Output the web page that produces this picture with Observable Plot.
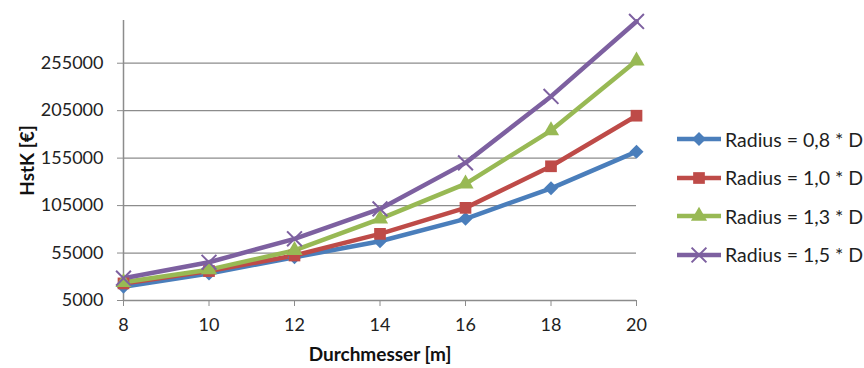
<!DOCTYPE html>
<html><head><meta charset="utf-8">
<script src="https://cdn.jsdelivr.net/npm/d3@7"></script>
<script src="https://cdn.jsdelivr.net/npm/@observablehq/plot@0.6"></script>
<style>
body{margin:0;background:#fff;font-family:Lato,sans-serif}
#wrap{position:relative;width:864px;height:368px}
#legend{position:absolute;left:676px;top:120px;font-family:Lato,sans-serif;font-size:19.5px;color:#1f1f1f}
.row{display:flex;align-items:center;height:38.5px;white-space:nowrap}
.row svg{display:block;margin-right:3px}
</style></head><body>
<div id="wrap"><div id="chart"></div><div id="legend"></div></div>
<script>
const diameters = [8, 10, 12, 14, 16, 18, 20];
const seriesNames = ["Radius = 0,8 * D", "Radius = 1,0 * D", "Radius = 1,3 * D", "Radius = 1,5 * D"];
const r08 = [19500, 33500, 50500, 67400, 91000, 123200, 161800];
const r10 = [23000, 36000, 52400, 75200, 102600, 146400, 199700];
const r13 = [24200, 37500, 57800, 91000, 127800, 184000, 257600];
const r15 = [28500, 45300, 70000, 101500, 150000, 220000, 299000];
const yTicks = [5000, 55000, 105000, 155000, 205000, 255000];
const xTicks = [8, 10, 12, 14, 16, 18, 20];
const colors = ["#4A7EBB", "#BE4B48", "#98B954", "#7D60A0"];
const symbolNames = ["diamond2", "square", "triangle", "times"];
const symbolR = [6.3, 6.6, 6.0, 6.8];

const allValues = [r08, r10, r13, r15];
const data = [];
allValues.forEach((vals, i) => vals.forEach((v, j) => data.push({series: seriesNames[i], idx: i, x: diameters[j], y: v})));

const grey = "#8c8c8c";
const marks = [
  Plot.gridY(yTicks, {stroke: grey, strokeOpacity: 1, strokeWidth: 1.2}),
  Plot.ruleX([8], {stroke: grey, strokeWidth: 1.5}),
  Plot.ruleY([5000], {stroke: grey, strokeWidth: 1.5}),
  Plot.axisY({ticks: yTicks, tickSize: 6, tickPadding: 14, stroke: grey, fill: "#222", fontSize: 18,
    label: "HstK [€]", labelAnchor: "center", labelArrow: "none", labelOffset: 103, tickFormat: d => String(d)}),
  Plot.axisX({ticks: xTicks, tickSize: 6, tickPadding: 12, stroke: grey, fill: "#222", fontSize: 18,
    label: "Durchmesser [m]", labelAnchor: "center", labelArrow: "none", labelOffset: 60, tickFormat: d => String(d)}),
  Plot.line(data, {x: "x", y: "y", z: "series", stroke: d => colors[d.idx], strokeWidth: 4.5, strokeLinejoin: "round"})
];
seriesNames.forEach((name, i) => {
  const sub = data.filter(d => d.idx === i);
  if (symbolNames[i] === "times") {
    marks.push(Plot.dot(sub, {x: "x", y: "y", symbol: () => symbolNames[i], r: symbolR[i], stroke: colors[i], strokeWidth: 2, fill: "none"}));
  } else {
    marks.push(Plot.dot(sub, {x: "x", y: "y", symbol: () => symbolNames[i], r: symbolR[i], fill: colors[i], stroke: "none"}));
  }
});

const chart = Plot.plot({
  width: 864, height: 368,
  marginLeft: 123, marginRight: 228, marginTop: 20, marginBottom: 68,
  style: {fontFamily: "Lato, sans-serif", fontSize: "18px", background: "#fff", overflow: "visible"},
  x: {domain: [8, 20]},
  y: {domain: [5000, 300000]},
  symbol: {type: "identity"},
  marks
});
document.getElementById("chart").appendChild(chart);
d3.select(chart).selectAll("g[aria-label='x-axis label'] text, g[aria-label='y-axis label'] text")
  .attr("font-weight", "bold").attr("fill", "#111").style("font-size", "19px");

// legend
const symMap = {diamond2: d3.symbolDiamond2, square: d3.symbolSquare, triangle: d3.symbolTriangle, times: d3.symbolTimes};
const legend = d3.select("#legend");
seriesNames.forEach((name, i) => {
  const row = legend.append("div").attr("class", "row");
  const s = row.append("svg").attr("width", 46).attr("height", 20);
  s.append("line").attr("x1", 1).attr("x2", 45).attr("y1", 10).attr("y2", 10).attr("stroke", colors[i]).attr("stroke-width", 4.5);
  const p = d3.symbol(symMap[symbolNames[i]], Math.PI * symbolR[i] * symbolR[i])();
  const path = s.append("path").attr("d", p).attr("transform", "translate(23,10)");
  if (symbolNames[i] === "times") path.attr("fill", "none").attr("stroke", colors[i]).attr("stroke-width", 2);
  else path.attr("fill", colors[i]);
  row.append("span").text(name);
});
</script>
</body></html>
